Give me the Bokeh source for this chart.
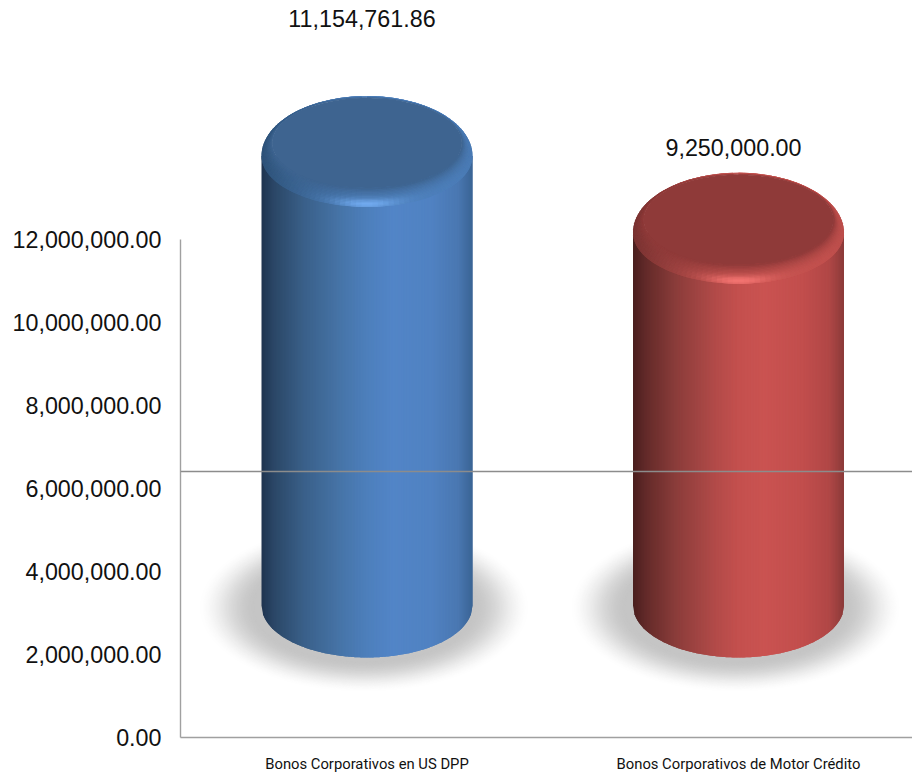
import numpy as np
from bokeh.embed import file_html
from bokeh.resources import INLINE
from bokeh.models import Range1d, LinearAxis, FixedTicker, NumeralTickFormatter, Span
from bokeh.plotting import figure
from bokeh.core.properties import value

# ---------- data ----------
categories = ["Bonos Corporativos en US DPP", "Bonos Corporativos de Motor Crédito"]
series_values = [11154761.86, 9250000.00]
value_labels = ["11,154,761.86", "9,250,000.00"]
y_ticks = [0, 2000000, 4000000, 6000000, 8000000, 10000000, 12000000]
ref_line_value = 6410000
label_levels = [14570000, 11360000]

# ---------- styling ----------
blue_stops = ["#1f3450", "#2b4767", "#3a6089", "#4775a9", "#4d7fbc", "#5285c7", "#5082c2", "#4a78b2", "#3a6494"]
red_stops = ["#4a1f1e", "#632a29", "#8a3c3a", "#b04a48", "#c4504e", "#ca5351", "#c24e4d", "#b04746", "#8b3a39"]
stop_pos = [0.0, 0.06, 0.2, 0.38, 0.5, 0.62, 0.8, 0.93, 1.0]
palettes = [
    dict(stops=blue_stops, cap="#3e6490", rim="#4c7eb9", dark="#31577f", hi="#72abf0"),
    dict(stops=red_stops, cap="#8f3a39", rim="#c4524f", dark="#813635", hi="#f57572"),
]

PX_Y = 1e6 / 41.5      # axis units per pixel
PX_CYL = 1e6 / 40.3    # cylinder units per pixel
PX_X = 1 / 371.5       # category units per pixel


def rgb(h):
    return np.array([int(h[i:i + 2], 16) for i in (1, 3, 5)], dtype=float)


def hexc(c):
    return "#%02x%02x%02x" % tuple(int(round(min(255, max(0, v)))) for v in c)


def mix(a, b, t):
    return a + (b - a) * t


def side_color(stops, f):
    arr = np.array([rgb(s) for s in stops])
    return np.array([np.interp(f, stop_pos, arr[:, i]) for i in range(3)])


W, H = 912, 777
FRAME_L, FRAME_B = 180, 737
p = figure(
    width=W, height=H, output_backend="svg", toolbar_location=None,
    x_axis_type=None, y_axis_type=None,
    x_range=Range1d(-186.5 * PX_X, (732 - 186.5) * PX_X),
    y_range=Range1d(0, FRAME_B * PX_Y),
    min_border_left=FRAME_L, min_border_right=0, min_border_top=0, min_border_bottom=H - FRAME_B,
    outline_line_color=None, background_fill_color="white", border_fill_color="white",
)
p.grid.visible = False
p.extra_y_ranges = {"cyl": Range1d(-132 * PX_CYL, 605 * PX_CYL)}

yaxis = LinearAxis(
    ticker=FixedTicker(ticks=y_ticks), formatter=NumeralTickFormatter(format="0,0.00"),
    bounds=(0, 12000000), axis_line_color="#a0a0a0", axis_line_width=1.4,
    major_tick_line_color=None, minor_tick_line_color=None, major_label_standoff=13,
    major_label_text_font="Liberation Sans", major_label_text_font_size="23.3px", major_label_text_color="#111111",
)
p.add_layout(yaxis, "left")
xaxis = LinearAxis(
    ticker=FixedTicker(ticks=[0, 1]), major_label_overrides={0: categories[0], 1: categories[1]},
    axis_line_color="#a0a0a0", axis_line_width=1.4,
    major_tick_line_color=None, minor_tick_line_color=None, major_label_standoff=11,
    major_label_text_font="Roboto", major_label_text_font_size="14.8px", major_label_text_color="#111111",
)
p.add_layout(xaxis, "below")

p.add_layout(Span(location=ref_line_value, dimension="width", line_color="#8c8c8c", line_width=1.3))

# shadows
th = np.linspace(0, 2 * np.pi, 90)
sx, sy, sc = [], [], []
for pos in range(len(series_values)):
    for k in range(45):
        f = k / 44
        rx = 168 - 58 * f
        ry = 86 - 32 * f
        g = 3 * f * f - 2 * f * f * f
        shade = 255 - (255 - 197) * g
        sx.append(list(pos - 3 * PX_X + rx * PX_X * np.cos(th)))
        sy.append(list(-2 * PX_CYL + ry * PX_CYL * np.sin(th)))
        sc.append(hexc([shade] * 3))
p.patches(sx, sy, fill_color=sc, line_color=None, y_range_name="cyl")

RX = 105.5
RY_BOT = 52
RY_UP = 60
RY_LOW = 51
CAP_RX, CAP_RY, CAP_DY = 95, 45, 13

xs, ys, cs = [], [], []
for pos, val in enumerate(series_values):
    pal = palettes[pos]
    # side strips, each overlapped by the next so that no seams show
    edges = np.linspace(-1, 1, 141)
    for i, u0 in enumerate(edges[:-1]):
        u1 = edges[i + 1]
        u2 = edges[min(i + 2, len(edges) - 1)]
        b0 = -RY_BOT * np.sqrt(max(0, 1 - u0 * u0))
        b1 = -RY_BOT * np.sqrt(max(0, 1 - u1 * u1))
        b2 = -RY_BOT * np.sqrt(max(0, 1 - u2 * u2))
        x0, x1, x2 = [pos + u * RX * PX_X for u in (u0, u1, u2)]
        xs.append([x0, x2, x2, x1, x0])
        ys.append([val, val, b2 * PX_CYL, b1 * PX_CYL, b0 * PX_CYL])
        cs.append(hexc(side_color(pal["stops"], (u0 + u1 + 2) / 4)))
    # bevel rings, painted outside-in with overlap
    rings = 14
    sect = 120
    ang = np.pi / 2 + np.linspace(0, 2 * np.pi, sect + 1)
    da = ang[1] - ang[0]

    def ring(t, a):
        cy = CAP_DY * t
        rx = RX + (CAP_RX - RX) * t
        up = RY_UP + (CAP_RY - RY_UP) * t
        low = RY_LOW + (CAP_RY - RY_LOW) * t
        ry = up if np.sin(a) >= 0 else low
        return rx * np.cos(a), cy + ry * np.sin(a)

    for r in range(rings):
        t0, t1 = r / rings, (r + 2) / rings
        tm = (r + 0.5) / rings
        for k in range(sect):
            a0, a1 = ang[k], ang[k] + (da * 2 if k < sect - 1 else da)
            am = ang[k] + da / 2
            pts = [ring(t0, a0), ring(t0, a0 + da), ring(t0, a1), ring(min(t1, 1), a1), ring(min(t1, 1), a0)]
            xs.append([pos + q[0] * PX_X for q in pts])
            ys.append([val + q[1] * PX_CYL for q in pts])
            u = np.cos(am)
            lower = max(0.0, -np.sin(am))
            col = mix(rgb(pal["dark"]), rgb(pal["rim"]), np.clip((u + 1.0) / 0.9, 0, 1))
            col = mix(col, side_color(pal["stops"], (u + 1) / 2), 0.15 * (1 - tm))
            h = np.exp(-(u / 0.3) ** 2) * np.exp(-((tm - 0.18) / 0.26) ** 2) * lower
            col = mix(col, rgb(pal["hi"]), np.clip(h, 0, 1))
            col = mix(col, rgb(pal["cap"]), tm ** 2.2)
            cs.append(hexc(col))
    # cap
    a = np.linspace(0, 2 * np.pi, 120)
    xs.append(list(pos + CAP_RX * PX_X * np.cos(a)))
    ys.append(list(val + (CAP_DY + CAP_RY * np.sin(a)) * PX_CYL))
    cs.append(pal["cap"])

p.patches(xs, ys, fill_color=cs, line_color=None, y_range_name="cyl")

p.text(
    x=[pos - 5 * PX_X for pos in range(len(value_labels))], y=label_levels, text=value_labels,
    text_font=value("Liberation Sans"), text_font_size="23.3px", text_color="#111111",
    text_align="center", text_baseline="middle", y_range_name="cyl",
)

open("out.html", "w").write(file_html(p, INLINE))
